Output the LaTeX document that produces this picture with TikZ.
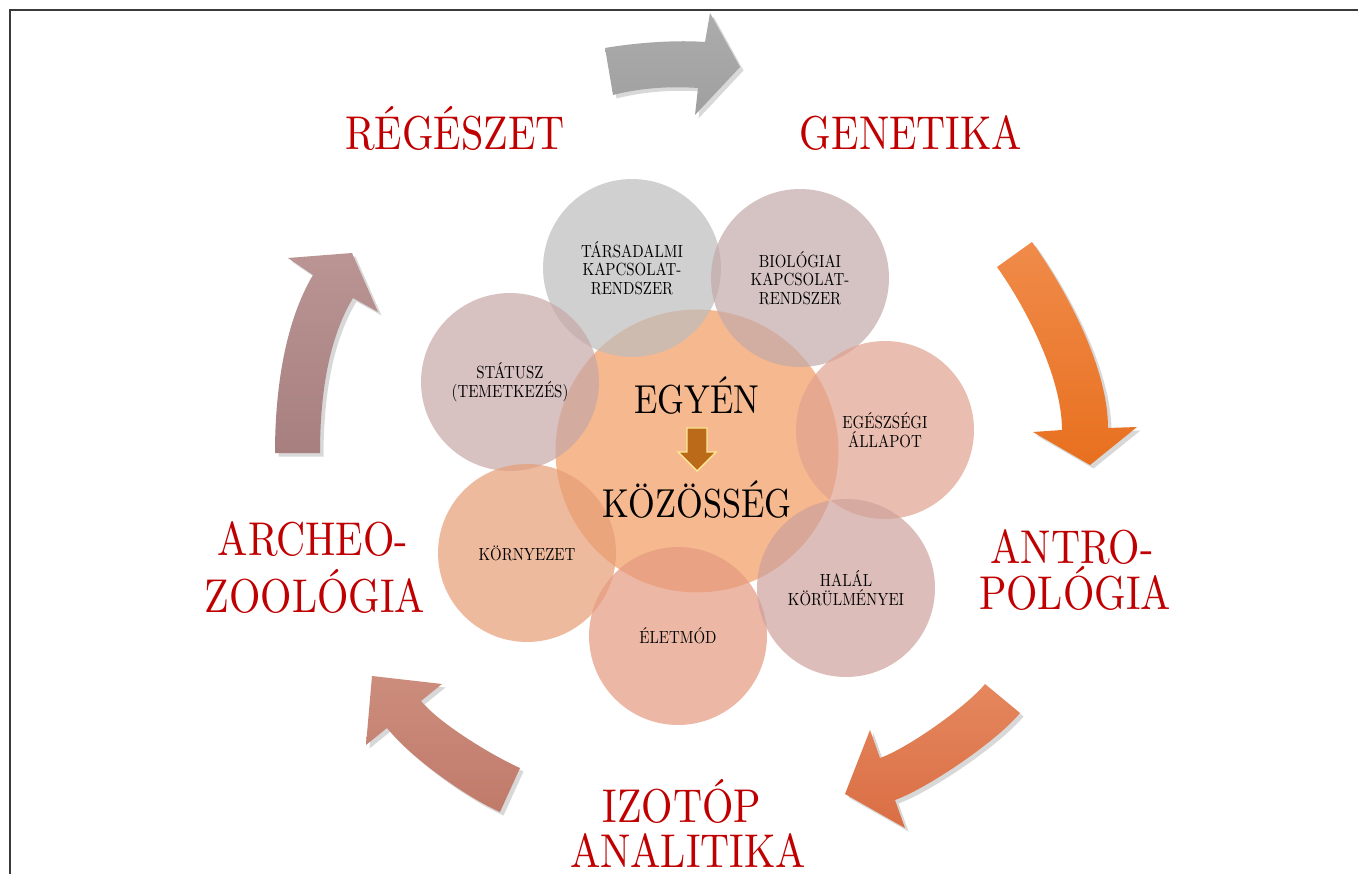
\documentclass[tikz,border=0pt]{standalone}
\usepackage{fontspec}
\newfontfamily\titel{lmroman10-regular.otf}[FakeStretch=0.85]
\usetikzlibrary{shadows}

\definecolor{cimpiros}{HTML}{C00000}
\definecolor{keret}{HTML}{3A3A3A}
\definecolor{kozepkor}{HTML}{F29A60}
\definecolor{tarskor}{HTML}{BDBDBD}
\definecolor{biokor}{HTML}{C4A9A9}
\definecolor{statkor}{HTML}{C7A7A7}
\definecolor{egeszkor}{HTML}{E0A28E}
\definecolor{halalkor}{HTML}{CEA19C}
\definecolor{eletkor}{HTML}{E59B80}
\definecolor{kornykor}{HTML}{E89E76}

\begin{document}
\begin{tikzpicture}[x=0.02cm,y=-0.02cm]
	\tikzstyle{cim}=[anchor=base, inner sep=0pt, text=cimpiros, font=\titel\fontsize{27}{27}\selectfont]
	\tikzstyle{kozep}=[anchor=base, text=black, font=\titel\fontsize{23}{23}\selectfont]
	\tikzstyle{buborek}=[circle, inner sep=0pt, minimum size=3.56cm, fill opacity=0.7, text opacity=1, align=center, font=\titel\fontsize{10}{10.5}\selectfont]
	\tikzstyle{nyil}=[drop shadow={opacity=0.3, shadow xshift=2pt, shadow yshift=-2pt}]
\clip (0,0) rectangle (1358,874);
\fill[white] (0,0) rectangle (1358,874);
\draw[keret, line width=1.2pt] (10,874) -- (10,10) -- (1358,10);

% korok
\node[buborek, minimum size=5.66cm, fill=kozepkor] (egyen-kor) at (697,451) {};
\node[buborek, fill=tarskor] (tars) at (632,268) {TÁRSADALMI\\KAPCSOLAT-\\RENDSZER};
\node[buborek, fill=biokor] (bio) at (800,278) {BIOLÓGIAI\\KAPCSOLAT-\\RENDSZER};
\node[buborek, fill=statkor] (statusz) at (510,382) {STÁTUSZ\\(TEMETKEZÉS)};
\node[buborek, fill=egeszkor] (egeszseg) at (885,430) {EGÉSZSÉGI\\ÁLLAPOT};
\node[buborek, fill=kornykor] (kornyezet) at (527,553) {KÖRNYEZET};
\node[buborek, fill=eletkor] (eletmod) at (678,636) {ÉLETMÓD};
\node[buborek, fill=halalkor] (halal) at (846,588) {HALÁL\\KÖRÜLMÉNYEI};

\node[kozep] (egyen) at (697,414) {EGYÉN};
\node[kozep] (kozosseg) at (697,517) {KÖZÖSSÉG};
\draw[draw=yellow!60!orange!40, fill=orange!70!black!90, line width=0.8pt]
	(687,428) -- (707,428) -- (707,452) -- (716,452) -- (697,471) -- (678,452) -- (687,452) -- cycle;

% nyilak
\shade[nyil, top color=gray!65, bottom color=gray!75]
	(605,48) .. controls (640,42) and (680,40) .. (705,42) -- (710,13) -- (740,67) -- (695,115) -- (698,88)
	.. controls (670,86) and (640,88) .. (613,95) -- cycle;
\shade[nyil, top color={rgb,255:red,240;green,139;blue,74}, bottom color={rgb,255:red,232;green,112;blue,31}]
	(1032,242) .. controls (1067,291) and (1108,368) .. (1108,428) -- (1137,427) -- (1090,465) -- (1033,432) -- (1062,430)
	.. controls (1062,380) and (1029,312) .. (997,267) -- cycle;
\shade[nyil, top color={rgb,255:red,229;green,135;blue,94}, bottom color={rgb,255:red,218;green,110;blue,68}]
	(985,684) .. controls (966,707) and (908,748) .. (880,758) -- (870,730) -- (845,794) -- (905,828) -- (895,800)
	.. controls (928,788) and (997,741) .. (1020,713) -- cycle;
\shade[nyil, top color={rgb,255:red,204;green,141;blue,125}, bottom color={rgb,255:red,192;green,122;blue,106}]
	(520,768) .. controls (493,756) and (440,724) .. (421,701) -- (442,684) -- (372,676) -- (366,745) -- (387,728)
	.. controls (412,759) and (468,798) .. (500,812) -- cycle;
\shade[nyil, top color={rgb,255:red,186;green,149;blue,148}, bottom color={rgb,255:red,167;green,127;blue,127}]
	(275,453) .. controls (275,400) and (282,327) .. (313,275) -- (288,258) -- (352,253) -- (378,312) -- (353,298)
	.. controls (327,341) and (320,400) .. (320,453) -- cycle;

% feliratok
\node[cim] (regeszet) at (455,150) {RÉGÉSZET};
\node[cim] (genetika) at (911,150) {GENETIKA};
\node[cim] (antro) at (1072,563) {ANTRO-};
\node[cim] (pologia) at (1075,609) {POLÓGIA};
\node[cim] (izotop) at (682,822) {IZOTÓP};
\node[cim] (analitika) at (688,867) {ANALITIKA};
\node[cim] (archeo) at (313,555) {ARCHEO-};
\node[cim] (zoologia) at (315,612) {ZOOLÓGIA};

\end{tikzpicture}
\end{document}
